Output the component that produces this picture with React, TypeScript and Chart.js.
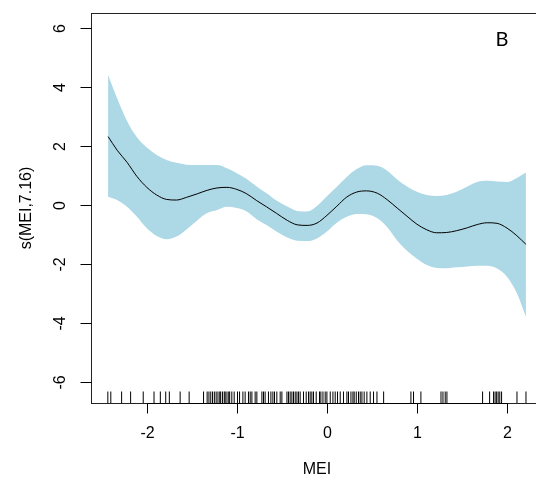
import React, { useEffect, useRef } from "react";
import { Chart, registerables } from "chart.js";

Chart.register(...registerables);

// Smooth term s(MEI) from the GAM, with its confidence band
const mei = [
  -2.43, -2.33, -2.22, -2.11, -2.0, -1.89, -1.78, -1.67, -1.56, -1.44, -1.33,
  -1.22, -1.11, -1.0, -0.89, -0.78, -0.67, -0.56, -0.44, -0.33, -0.22, -0.11,
  0.0, 0.11, 0.22, 0.33, 0.44, 0.56, 0.67, 0.78, 0.89, 1.0, 1.11, 1.22, 1.33,
  1.44, 1.56, 1.67, 1.78, 1.89, 2.0, 2.11, 2.21,
];
const fit = [
  2.32, 1.86, 1.45, 0.97, 0.6, 0.34, 0.19, 0.17, 0.26, 0.38, 0.5, 0.58, 0.6,
  0.53, 0.38, 0.15, -0.06, -0.28, -0.52, -0.67, -0.69, -0.61, -0.35, -0.04,
  0.27, 0.44, 0.48, 0.4, 0.18, -0.1, -0.38, -0.65, -0.84, -0.94, -0.93, -0.87,
  -0.77, -0.66, -0.6, -0.62, -0.78, -1.04, -1.33,
];
const upper = [
  4.41, 3.62, 2.85, 2.3, 1.95, 1.7, 1.53, 1.43, 1.37, 1.36, 1.36, 1.36, 1.25,
  1.08, 0.88, 0.63, 0.4, 0.15, -0.05, -0.2, -0.22, -0.03, 0.3, 0.62, 0.95,
  1.22, 1.35, 1.33, 1.16, 0.87, 0.63, 0.45, 0.34, 0.31, 0.34, 0.45, 0.63, 0.78,
  0.82, 0.8, 0.78, 0.92, 1.1,
];
const lower = [
  0.28, 0.17, -0.06, -0.4, -0.79, -1.05, -1.16, -1.07, -0.83, -0.52, -0.27,
  -0.17, -0.06, -0.1, -0.22, -0.48, -0.68, -0.9, -1.1, -1.21, -1.22, -1.13,
  -0.9, -0.6, -0.4, -0.3, -0.31, -0.45, -0.75, -1.2, -1.55, -1.82, -2.03,
  -2.13, -2.14, -2.11, -2.08, -2.06, -2.06, -2.15, -2.43, -2.99, -3.79,
];

// Observed MEI values shown as a rug
const rugMei = [
  -2.433, -2.4, -2.28, -2.18, -2.04, -1.92, -1.85, -1.79, -1.75, -1.63, -1.53,
  -1.37, -1.33, -1.31, -1.29, -1.27, -1.25, -1.23, -1.21, -1.19, -1.18, -1.16,
  -1.14, -1.13, -1.11, -1.09, -1.08, -1.056, -1.03, -0.993, -0.97, -0.933,
  -0.908, -0.871, -0.852, -0.833, -0.797, -0.778, -0.722, -0.704, -0.686,
  -0.649, -0.622, -0.6, -0.582, -0.556, -0.519, -0.5, -0.444, -0.427, -0.408,
  -0.389, -0.371, -0.352, -0.333, -0.316, -0.297, -0.26, -0.23, -0.204,
  -0.186, -0.167, -0.149, -0.119, -0.082, -0.067, -0.044, -0.019, 0.0, 0.037,
  0.067, 0.092, 0.118, 0.148, 0.184, 0.222, 0.24, 0.267, 0.289, 0.303, 0.326,
  0.351, 0.37, 0.389, 0.414, 0.444, 0.481, 0.518, 0.556, 0.63, 0.933, 0.962,
  1.044, 1.267, 1.289, 1.314, 1.333, 1.729, 1.807, 1.851, 1.868, 1.885,
  1.902, 1.92, 1.94, 2.111, 2.211,
];

const xTicks = [-2, -1, 0, 1, 2];
const yTicks = [-6, -4, -2, 0, 2, 4, 6];
const xTitle = "MEI";
const yTitle = "s(MEI,7.16)";
const panelLabel = "B";

const FONT = '"Liberation Sans", Arial, sans-serif';

// R-style frame, axes, rug and labels drawn on top of the datasets
const basePlotDecor = {
  id: "basePlotDecor",
  afterDatasetsDraw(chart: any) {
    const { ctx, chartArea: a, scales } = chart;
    const xs = scales.x;
    const ys = scales.y;
    const L = Math.round(a.left) + 0.5;
    const T = Math.round(a.top) + 0.5;
    const B = Math.round(a.bottom) + 0.5;
    const R = Math.round(a.right) + 0.5;
    ctx.save();

    // rug
    ctx.strokeStyle = "#000";
    ctx.lineWidth = 1;
    for (const v of rugMei) {
      const px = xs.getPixelForValue(v);
      ctx.beginPath();
      ctx.moveTo(px, B);
      ctx.lineTo(px, B - 12);
      ctx.stroke();
    }

    // box
    ctx.strokeStyle = "#222";
    ctx.strokeRect(L, T, R - L, B - T);

    ctx.fillStyle = "#000";
    ctx.strokeStyle = "#000";
    ctx.font = `16px ${FONT}`;

    // x axis
    ctx.beginPath();
    ctx.moveTo(Math.round(xs.getPixelForValue(xTicks[0])) + 0.5, B);
    ctx.lineTo(Math.round(xs.getPixelForValue(xTicks[xTicks.length - 1])) + 0.5, B);
    ctx.stroke();
    ctx.textAlign = "center";
    ctx.textBaseline = "middle";
    for (const v of xTicks) {
      const px = Math.round(xs.getPixelForValue(v)) + 0.5;
      ctx.beginPath();
      ctx.moveTo(px, B);
      ctx.lineTo(px, B + 10);
      ctx.stroke();
      ctx.fillText(String(v), px, a.bottom + 31);
    }

    // y axis
    for (const v of yTicks) {
      const py = Math.round(ys.getPixelForValue(v)) + 0.5;
      ctx.beginPath();
      ctx.moveTo(L - 11, py);
      ctx.lineTo(L, py);
      ctx.stroke();
      ctx.save();
      ctx.translate(a.left - 30, py);
      ctx.rotate(-Math.PI / 2);
      ctx.fillText(String(v), 0, 0);
      ctx.restore();
    }

    // titles
    ctx.fillText(xTitle, (a.left + a.right) / 2, a.bottom + 67);
    ctx.save();
    ctx.translate(a.left - 64, (a.top + a.bottom) / 2);
    ctx.rotate(-Math.PI / 2);
    ctx.fillText(yTitle, 0, 0);
    ctx.restore();

    // panel letter
    ctx.font = `20px Lato, "Open Sans", sans-serif`;
    ctx.fillText(panelLabel, 502, 40);

    ctx.restore();
  },
};

export default function App() {
  const ref = useRef<HTMLCanvasElement>(null);

  useEffect(() => {
    const canvas = ref.current;
    if (!canvas) return;
    const pts = (ys: number[]) => mei.map((x, i) => ({ x, y: ys[i] }));
    const chart = new Chart(canvas, {
      type: "line",
      data: {
        datasets: [
          {
            data: pts(upper),
            order: 2,
            borderWidth: 0,
            borderColor: "rgba(0,0,0,0)",
            backgroundColor: "#ADD8E6",
            fill: "+1",
            pointRadius: 0,
            cubicInterpolationMode: "monotone",
          },
          {
            data: pts(lower),
            order: 1,
            borderWidth: 0,
            borderColor: "rgba(0,0,0,0)",
            backgroundColor: "#ADD8E6",
            fill: false,
            pointRadius: 0,
            cubicInterpolationMode: "monotone",
          },
          {
            data: pts(fit),
            order: 0,
            borderWidth: 1,
            borderColor: "#000",
            fill: false,
            pointRadius: 0,
            cubicInterpolationMode: "monotone",
          },
        ],
      },
      options: {
        responsive: false,
        animation: false,
        devicePixelRatio: 1,
        layout: { padding: { left: 91, top: 13, right: 17, bottom: 80 } },
        plugins: {
          legend: { display: false },
          tooltip: { enabled: false },
        },
        scales: {
          x: { type: "linear", min: -2.62, max: 2.4, display: false },
          y: { type: "linear", min: -6.71, max: 6.51, display: false },
        },
      },
      plugins: [basePlotDecor],
    });
    return () => chart.destroy();
  }, []);

  return (
    <div
      style={{
        position: "fixed",
        left: 0,
        top: 0,
        width: 536,
        height: 483,
        overflow: "hidden",
        background: "#fff",
      }}
    >
      <canvas ref={ref} width={560} height={483} style={{ display: "block" }} />
    </div>
  );
}
